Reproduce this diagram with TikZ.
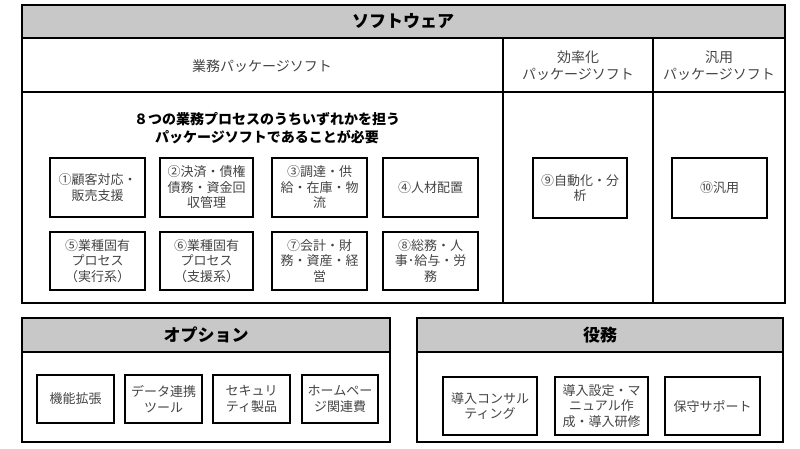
\documentclass[tikz,border=0pt]{standalone}
\usepackage{fontspec}
\setmainfont{Noto Sans CJK JP}
\begin{document}
\begin{tikzpicture}[x=1pt,y=-1pt,
  frame/.style={draw=black,line width=1.3pt},
  head/.style={frame,fill=headgray},
  item/.style={draw=black,line width=1.3pt,text=txtgray,align=center,inner sep=0pt,
     font=\fontsize{13}{15.5}\selectfont},
  lbl/.style={text=txtgray,align=center,font=\fontsize{14}{17}\selectfont},
  hlbl/.style={text=black,align=center,font=\bfseries\fontsize{17}{20}\selectfont}]
\definecolor{headgray}{HTML}{C8C8C8}
\definecolor{txtgray}{HTML}{444444}
\useasboundingbox (0,0) rectangle (800,448);
% Software box
\draw[head] (22,5) rectangle (785,38);
\draw[frame] (22,38) rectangle (785,303);
\draw[frame] (22,92) -- (785,92);
\draw[frame] (503,38) -- (503,303);
\draw[frame] (653,38) -- (653,303);
\node[hlbl] (sw) at (403,21) {ソフトウェア};
\node[lbl] (gyomu) at (262,66) {業務パッケージソフト};
\node[lbl] (koritsu) at (578,66) {効率化\\パッケージソフト};
\node[lbl] (hanyo) at (719,66) {汎用\\パッケージソフト};
\node[text=black,align=center,font=\bfseries\fontsize{14}{17.5}\selectfont] (need) at (267,128) {８つの業務プロセスのうちいずれかを担う\\パッケージソフトであることが必要};
% item boxes row 1
\node[item,minimum width=95pt,minimum height=59pt] (b1) at (97.5,187.5) {①顧客対応・\\販売支援};
\node[item,minimum width=93pt,minimum height=59pt] (b2) at (206.5,187.5) {②決済・債権\\債務・資金回\\収管理};
\node[item,minimum width=95pt,minimum height=59pt] (b3) at (319.5,187.5) {③調達・供\\給・在庫・物\\流};
\node[item,minimum width=95pt,minimum height=59pt] (b4) at (430.5,187.5) {④人材配置};
% row 2
\node[item,minimum width=95pt,minimum height=58pt] (b5) at (97.5,261) {⑤業種固有\\プロセス\\（実行系）};
\node[item,minimum width=93pt,minimum height=58pt] (b6) at (206.5,261) {⑥業種固有\\プロセス\\（支援系）};
\node[item,minimum width=95pt,minimum height=58pt] (b7) at (319.5,261) {⑦会計・財\\務・資産・経\\営};
\node[item,minimum width=95pt,minimum height=58pt] (b8) at (430.5,261) {⑧総務・人\\事･給与・労\\務};
\node[item,minimum width=94pt,minimum height=60pt] (b9) at (580,188) {⑨自動化・分\\析};
\node[item,minimum width=95pt,minimum height=60pt] (b10) at (719.5,188) {⑩汎用};
% Option box
\draw[head] (22,318) rectangle (390,352);
\draw[frame] (22,352) rectangle (390,442);
\node[hlbl] (opt) at (206,335) {オプション};
\node[item,minimum width=77pt,minimum height=48pt] (o1) at (75.5,399) {機能拡張};
\node[item,minimum width=77pt,minimum height=48pt] (o2) at (163.5,399) {データ連携\\ツール};
\node[item,minimum width=77pt,minimum height=48pt] (o3) at (251.5,399) {セキュリ\\ティ製品};
\node[item,minimum width=76pt,minimum height=48pt] (o4) at (340,399) {ホームペー\\ジ関連費};
% Service box
\draw[head] (417,318) rectangle (783,352);
\draw[frame] (417,352) rectangle (783,442);
\node[hlbl] (ekimu) at (600,335) {役務};
\node[item,minimum width=94pt,minimum height=58pt] (s1) at (490,406) {導入コンサル\\ティング};
\node[item,minimum width=93pt,minimum height=58pt] (s2) at (601.5,406) {導入設定・マ\\ニュアル作\\成・導入研修};
\node[item,minimum width=95pt,minimum height=58pt] (s3) at (712.5,406) {保守サポート};
\end{tikzpicture}
\end{document}
